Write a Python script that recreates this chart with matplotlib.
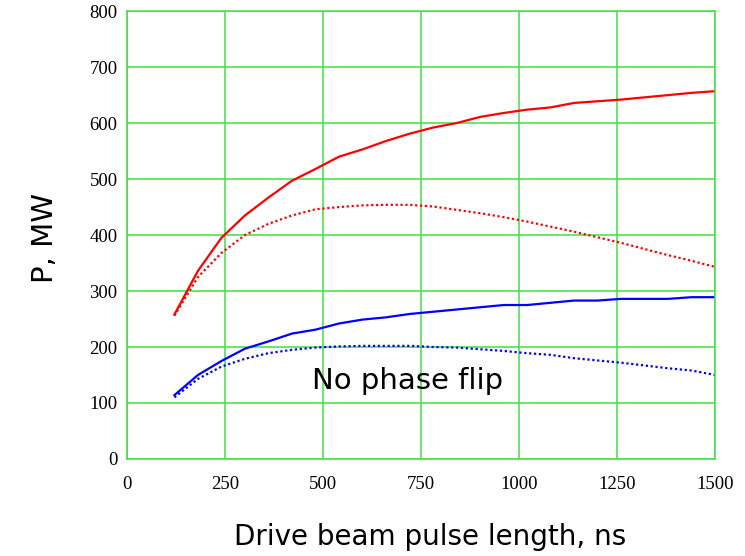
#!/usr/bin/env python3
"""Output power vs drive beam pulse length, with and without phase flip."""

import matplotlib

matplotlib.use("Agg")
import matplotlib.pyplot as plt

pulse_ns = [120, 180, 240, 300, 360, 420, 480, 540, 600, 660, 720, 780,
            840, 900, 960, 1020, 1080, 1140, 1200, 1260, 1320, 1380, 1440, 1500]

red_solid = [258, 336, 395, 435, 467, 497, 518, 540, 553, 568, 581, 592,
             600, 611, 618, 624, 628, 636, 639, 642, 646, 650, 654, 657]
red_dotted = [256, 325, 368, 400, 420, 435, 446, 450, 453, 454, 454, 451,
              445, 439, 432, 424, 415, 406, 396, 386, 375, 364, 354, 343]
blue_solid = [114, 150, 175, 197, 210, 224, 231, 242, 249, 253, 259, 263,
              267, 271, 275, 275, 279, 283, 283, 286, 286, 286, 289, 289]
blue_dotted = [110, 143, 165, 179, 189, 195, 199, 201, 202, 202, 202, 200,
               199, 196, 193, 189, 186, 180, 176, 172, 167, 162, 158, 150]

x_ticks = [0, 250, 500, 750, 1000, 1250, 1500]
y_ticks = [0, 100, 200, 300, 400, 500, 600, 700, 800]

GRID = "#44dd44"

fig = plt.figure(figsize=(7.45, 5.56), dpi=100)
ax = fig.add_axes([0.171, 0.1745, 0.789, 0.8055])

ax.plot(pulse_ns, red_solid, color="#ff0000", lw=1.6)
ax.plot(pulse_ns, red_dotted, color="#ff0000", lw=1.6, ls=(0, (1, 1.2)))
ax.plot(pulse_ns, blue_solid, color="#0000ff", lw=1.6)
ax.plot(pulse_ns, blue_dotted, color="#0000ff", lw=1.6, ls=(0, (1, 1.2)))

ax.set_xlim(0, 1500)
ax.set_ylim(0, 800)
ax.set_xticks(x_ticks)
ax.set_yticks(y_ticks)
ax.grid(True, color=GRID, lw=1.1)
ax.set_axisbelow(True)
for sp in ax.spines.values():
    sp.set_color(GRID)
    sp.set_linewidth(1.1)
ax.tick_params(length=0, labelsize=13.5, pad=7)
for lab in ax.get_xticklabels() + ax.get_yticklabels():
    lab.set_fontfamily("Liberation Serif")
ax.tick_params(axis="x", pad=12)

ax.text(715, 140, "No phase flip", fontsize=21, family="DejaVu Sans",
        ha="center", va="center")
fig.text(0.06, 0.572, "P, MW", rotation=90, fontsize=21, family="DejaVu Sans",
         ha="center", va="center")
fig.text(0.578, 0.034, "Drive beam pulse length, ns", fontsize=20,
         family="DejaVu Sans", ha="center", va="center")

fig.savefig("out.png", dpi=100)
